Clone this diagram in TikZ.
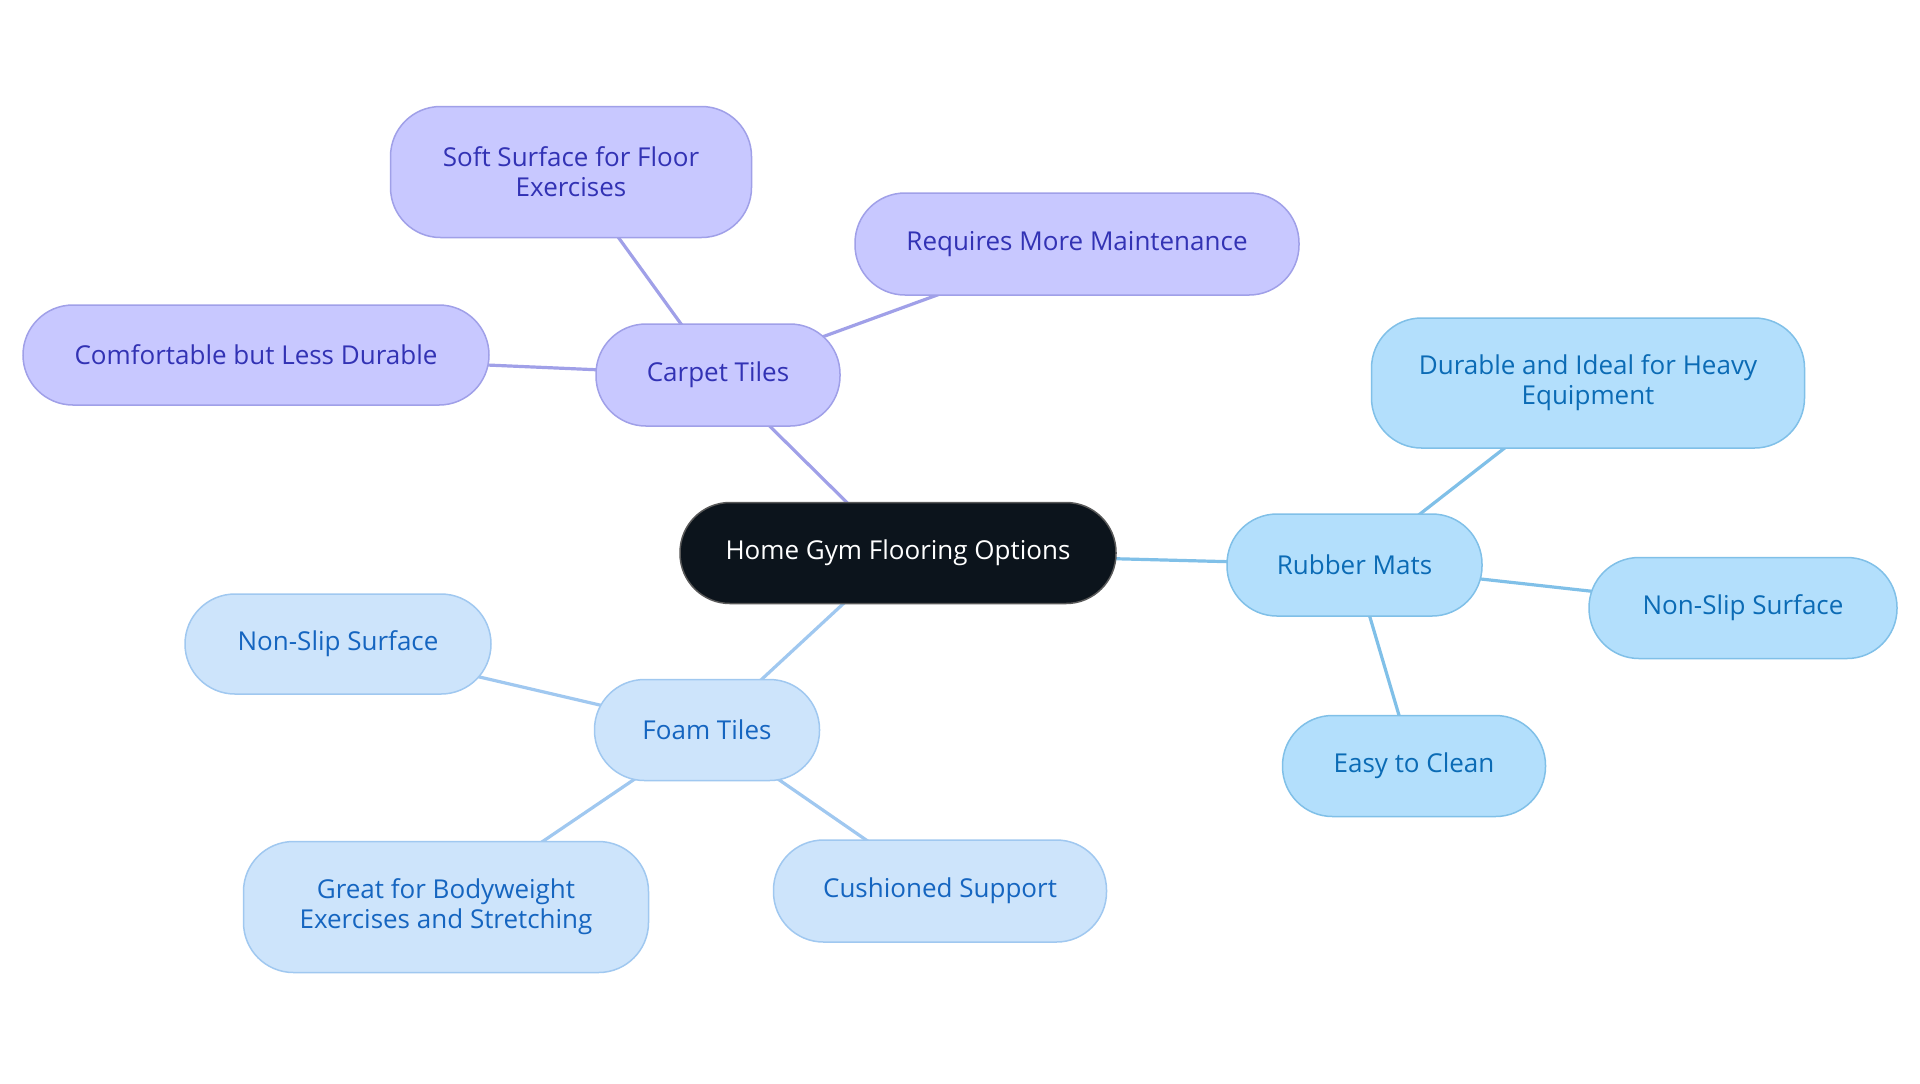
\documentclass[tikz,border=0pt]{standalone}
\usepackage{fontspec}
\setmainfont{Open Sans}
\usetikzlibrary{backgrounds}
\definecolor{cfill}{HTML}{C8C8FF}
\definecolor{cdraw}{HTML}{A0A0E8}
\definecolor{ctext}{HTML}{3232B4}
\definecolor{rfill}{HTML}{B3DFFC}
\definecolor{rdraw}{HTML}{80C0E8}
\definecolor{rtext}{HTML}{0B6BB5}
\definecolor{ffill}{HTML}{CDE4FB}
\definecolor{fdraw}{HTML}{A0C8F0}
\definecolor{ftext}{HTML}{1565C0}
\definecolor{mfill}{HTML}{0C141C}
\tikzset{
  box/.style={rounded corners=25pt, line width=0.75pt, align=center, inner sep=0pt,
    font=\fontsize{13}{15}\selectfont},
  rootbox/.style={box, fill=mfill, draw=gray!70!black, text=white},
  carpetbox/.style={box, fill=cfill, draw=cdraw, text=ctext},
  rubberbox/.style={box, fill=rfill, draw=rdraw, text=rtext},
  foambox/.style={box, fill=ffill, draw=fdraw, text=ftext},
  sz/.style 2 args={minimum width=#1*0.5pt, minimum height=#2*0.5pt},
  cline/.style={draw=cdraw, line width=1.6pt},
  rline/.style={draw=rdraw, line width=1.6pt},
  fline/.style={draw=fdraw, line width=1.6pt},
}
\begin{document}
\begin{tikzpicture}[x=0.5pt,y=-0.5pt]
\useasboundingbox (0,0) rectangle (1920,1083);
\node[rootbox, sz={436}{101}] (root) at (898,553) {Home Gym Flooring Options};
\node[carpetbox, sz={244}{102}] (carpet) at (718,375) {Carpet Tiles};
\node[carpetbox, sz={361}{131}] (soft) at (571,172) {Soft Surface for Floor\\Exercises};
\node[carpetbox, sz={444}{102}] (maint) at (1077,244) {Requires More Maintenance};
\node[carpetbox, sz={466}{100}] (comf) at (256,355) {Comfortable but Less Durable};
\node[rubberbox, sz={255}{102}] (rubber) at (1354.5,565) {Rubber Mats};
\node[rubberbox, sz={433}{130}] (durable) at (1588,383) {Durable and Ideal for Heavy\\Equipment};
\node[rubberbox, sz={308}{101}] (nsr) at (1743,608) {Non-Slip Surface};
\node[rubberbox, sz={263}{101}] (clean) at (1414,766) {Easy to Clean};
\node[foambox, sz={225}{101}] (foam) at (707,730) {Foam Tiles};
\node[foambox, sz={306}{100}] (nsl) at (338,644) {Non-Slip Surface};
\node[foambox, sz={405}{131}] (body) at (446,907) {Great for Bodyweight\\Exercises and Stretching};
\node[foambox, sz={333}{102}] (cush) at (940,891) {Cushioned Support};
\begin{scope}[on background layer]
\fill[white] (0,0) rectangle (1920,1083);
\draw[cline] (root.center) -- (carpet.center);
\draw[cline] (carpet.center) -- (soft.center);
\draw[cline] (carpet.center) -- (maint.center);
\draw[cline] (carpet.center) -- (comf.center);
\draw[rline] (root.center) -- (rubber.center);
\draw[rline] (rubber.center) -- (durable.center);
\draw[rline] (rubber.center) -- (nsr.center);
\draw[rline] (rubber.center) -- (clean.center);
\draw[fline] (root.center) -- (foam.center);
\draw[fline] (foam.center) -- (nsl.center);
\draw[fline] (foam.center) -- (body.center);
\draw[fline] (foam.center) -- (cush.center);
\end{scope}
\end{tikzpicture}
\end{document}
